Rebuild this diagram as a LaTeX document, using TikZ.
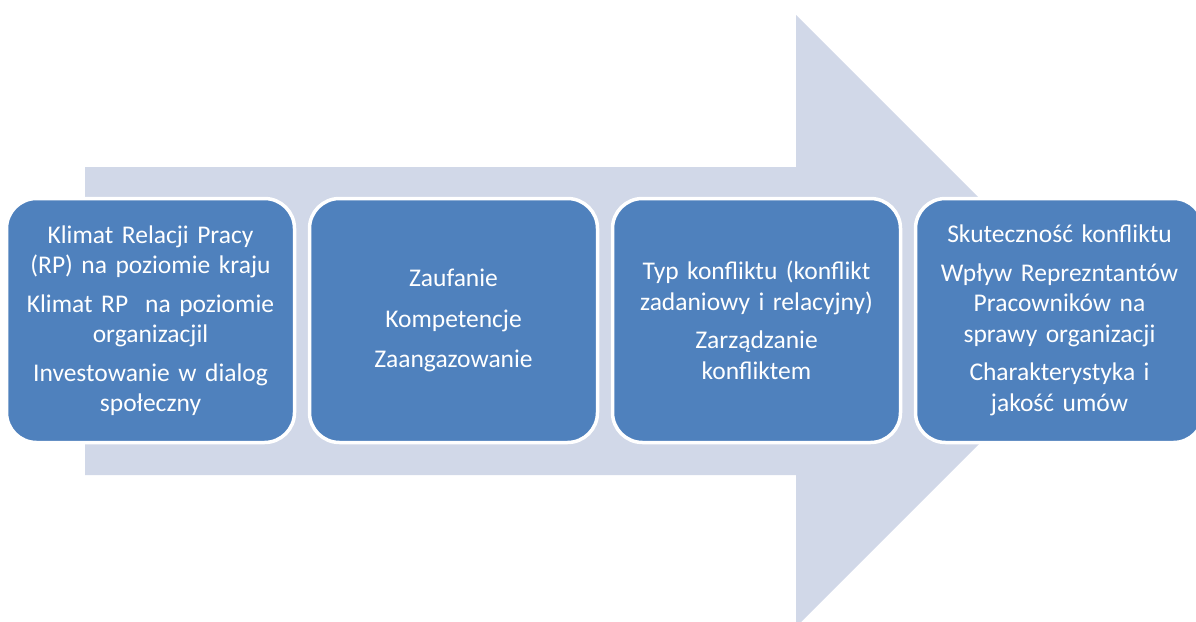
\documentclass[tikz,border=0pt]{standalone}
\usepackage{fontspec}
\setmainfont{Carlito}[WordSpace={1,0,0}]
\definecolor{arrowfill}{RGB}{209,216,232}
\definecolor{boxfill}{RGB}{79,129,189}
\begin{document}
\begin{tikzpicture}[x=1pt,y=-1pt,
  stagebox/.style={draw=white, line width=3.5pt, fill=boxfill, rounded corners=30pt,
    minimum width=288pt, minimum height=244pt, text width=280pt, align=center,
    text=white, font=\fontsize{25.5}{30.5}\selectfont, inner sep=0pt}]
\useasboundingbox (0,0) rectangle (1196,621);
\fill[arrowfill] (85,167) -- (796,167) -- (796,15) -- (1102,321) -- (796,627) -- (796,475) -- (85,475) -- cycle;
\node[stagebox] (b1) at (150.5,320.5) {Klimat Relacji Pracy\\(RP) na poziomie kraju\\[8pt]Klimat RP\ \ na poziomie\\organizacjil\\[8pt]Investowanie w dialog\\społeczny};
\node[stagebox] (b2) at (453.5,320.5) {Zaufanie\\[10pt]Kompetencje\\[10pt]Zaangazowanie};
\node[stagebox] (b3) at (756.5,320.5) {Typ konfliktu (konflikt\\zadaniowy i relacyjny)\\[8pt]Zarządzanie\\konfliktem};
\node[stagebox] (b4) at (1059.5,320.5) {Skuteczność konfliktu\\[8pt]Wpływ Repreznt\-antów\\Pracowników na\\sprawy organizacji\\[8pt]Charakterystyka i\\jakość umów};
\end{tikzpicture}
\end{document}
